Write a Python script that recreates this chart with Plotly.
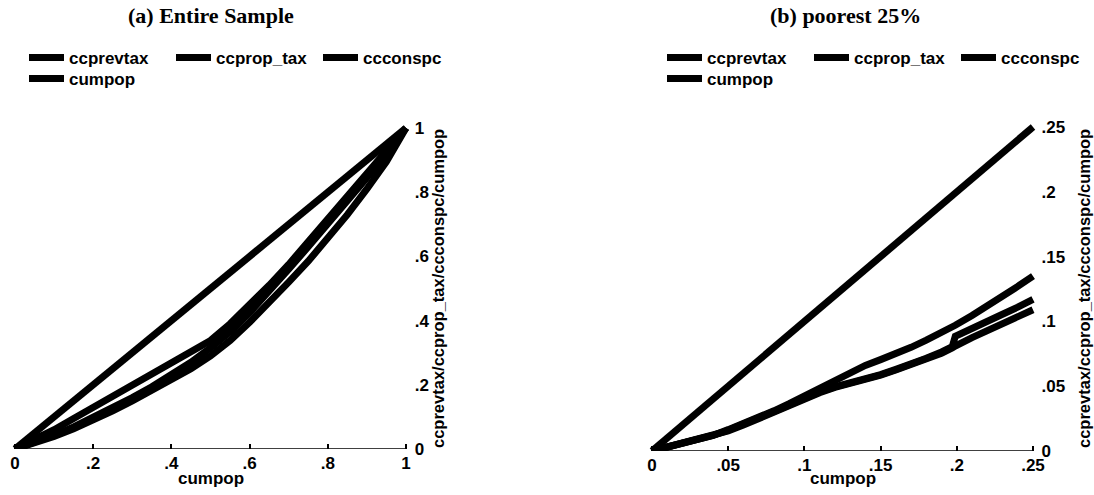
import plotly.graph_objects as go

W, H = 1094, 495

# ---------------- data ----------------
series_names = ["ccprevtax", "ccprop_tax", "ccconspc", "cumpop"]

# panel (a): entire sample
a_cumpop = [0, .05, .1, .15, .2, .25, .3, .35, .4, .45, .5, .55, .6, .65, .7, .75, .8, .85, .9, .95, 1]
a_ccprevtax = [0, .028, .06, .095, .13, .163, .197, .231, .265, .30, .338, .39, .448, .51, .575, .645, .715, .785, .855, .928, 1]
a_ccprop_tax = [0, .020, .043, .069, .098, .128, .160, .194, .23, .27, .315, .365, .425, .49, .56, .63, .70, .77, .845, .92, 1]
a_ccconspc = [0, .018, .039, .063, .09, .119, .15, .183, .215, .25, .29, .338, .395, .455, .52, .585, .655, .73, .81, .895, 1]

# panel (b): poorest 25%
b_cumpop = [0, .01, .02, .03, .04, .05, .06, .07, .08, .09, .10, .11, .12, .13, .14, .15,
            .16, .17, .18, .19, .197, .199, .21, .22, .23, .24, .25]
b_ccprevtax = [0, .003, .0055, .0085, .012, .0165, .021, .026, .031, .0365, .0425, .0485, .055, .0615,
               .066, .0705, .075, .080, .0855, .091, .0955, .097, .1045, .1115, .119, .127, .135]
b_ccprop_tax = [0, .003, .0055, .0085, .012, .016, .0205, .0255, .0305, .0355, .041, .0455, .0495, .0525,
                .0555, .059, .063, .067, .0715, .0765, .0805, .0885, .095, .1005, .1055, .111, .117]
b_ccconspc = [0, .003, .0055, .0085, .0115, .0155, .020, .025, .030, .035, .0405, .045, .049, .052,
              .055, .0585, .0625, .0665, .071, .0755, .0795, .081, .0875, .093, .0985, .1035, .109]

a_ticks = [0, .2, .4, .6, .8, 1]
a_ticktext = ["0", ".2", ".4", ".6", ".8", "1"]
b_ticks = [0, .05, .1, .15, .2, .25]
b_ticktext = ["0", ".05", ".1", ".15", ".2", ".25"]

titles = ["(a) Entire Sample", "(b) poorest 25%"]
x_title = "cumpop"
y_title = "ccprevtax/ccprop_tax/ccconspc/cumpop"

# ---------------- layout helpers ----------------
def xdom(p0, p1, v0, v1, r0, r1):
    s = (p1 - p0) / (v1 - v0)
    return [(p0 + (r0 - v0) * s) / W, (p0 + (r1 - v0) * s) / W]

def ydom(p0, p1, v0, v1, r0, r1):
    s = (p0 - p1) / (v1 - v0)
    bot = p0 + (v0 - r0) * s
    top = p0 - (r1 - v0) * s
    return [1 - bot / H, 1 - top / H]

FONT = "Liberation Sans"
ink = "black"
LW = 7

ax_r = [-0.012, 1.012]
ay_r = [0, 1.014]
bx_r = [-0.003, 0.253]
by_r = [0, 0.2535]

fig = go.Figure()

a_series = [a_ccprevtax, a_ccprop_tax, a_ccconspc, a_cumpop]
b_series = [b_ccprevtax, b_ccprop_tax, b_ccconspc, b_cumpop]
for i, (name, ys) in enumerate(zip(series_names, a_series)):
    fig.add_trace(go.Scatter(x=a_cumpop, y=ys, mode="lines", name=name,
                             line=dict(color=ink, width=LW),
                             xaxis="x", yaxis="y",
                             legend="legend" if i < 3 else "legend2"))
for i, (name, ys) in enumerate(zip(series_names, b_series)):
    fig.add_trace(go.Scatter(x=b_cumpop, y=ys, mode="lines", name=name,
                             line=dict(color=ink, width=LW),
                             xaxis="x2", yaxis="y2",
                             legend="legend3" if i < 3 else "legend4"))

tickfont = dict(family=FONT, size=17, color=ink, weight="bold")

xcommon = dict(showgrid=False, zeroline=False, showline=False, ticks="inside",
               ticklen=5, tickwidth=1.5, tickcolor=ink, tickfont=tickfont,
               automargin=False, ticklabelstandoff=2)
ycommon = dict(showgrid=False, zeroline=False, showline=False, ticks="",
               side="right", tickfont=tickfont, automargin=False, ticklabelstandoff=3)

fig.update_layout(
    width=W, height=H, autosize=False,
    margin=dict(l=0, r=0, t=0, b=0, autoexpand=False),
    paper_bgcolor="white", plot_bgcolor="white",
    showlegend=True,
    xaxis=dict(domain=xdom(15, 406, 0, 1, *ax_r), range=ax_r, anchor="y",
               tickvals=a_ticks, ticktext=a_ticktext, **xcommon),
    yaxis=dict(domain=ydom(449, 128, 0, 1, *ay_r), range=ay_r, anchor="x",
               tickvals=a_ticks, ticktext=a_ticktext, **ycommon),
    xaxis2=dict(domain=xdom(652, 1033, 0, .25, *bx_r), range=bx_r, anchor="y2",
                tickvals=b_ticks, ticktext=b_ticktext, **xcommon),
    yaxis2=dict(domain=ydom(451, 127, 0, .25, *by_r), range=by_r, anchor="x2",
                tickvals=b_ticks, ticktext=b_ticktext, **ycommon),
)

legfont = dict(family=FONT, size=17, color=ink, weight="bold")
def leg(px, py):
    return dict(orientation="h", x=px / W, y=1 - py / H, xanchor="left", yanchor="middle",
                bgcolor="rgba(0,0,0,0)", borderwidth=0, font=legfont,
                itemwidth=35, entrywidthmode="pixels", entrywidth=97,
                tracegroupgap=0, itemclick=False)

fig.update_layout(legend=leg(24, 58), legend2=leg(24, 79),
                  legend3=leg(662, 58), legend4=leg(662, 79))

for xr, yr, xs in (("x", "y", a_cumpop), ("x2", "y2", b_cumpop)):
    fig.add_shape(type="line", xref=xr, yref=yr, x0=xs[0], x1=xs[-1], y0=0, y1=0,
                  line=dict(color=ink, width=1.5))

anns = []
for t, cx in zip(titles, (211, 845)):
    anns.append(dict(text=t, x=cx / W, y=1 - 16 / H, xref="paper", yref="paper",
                     showarrow=False, xanchor="center", yanchor="middle",
                     font=dict(family="Liberation Serif", size=22, color=ink, weight="bold")))
for cx in (211, 843):
    anns.append(dict(text=x_title, x=cx / W, y=1 - 478 / H, xref="paper", yref="paper",
                     showarrow=False, xanchor="center", yanchor="middle",
                     font=dict(family=FONT, size=17, color=ink, weight="bold")))
for cx in (438, 1084):
    anns.append(dict(text=y_title, x=cx / W, y=1 - 289 / H, xref="paper", yref="paper",
                     showarrow=False, xanchor="center", yanchor="middle", textangle=-90,
                     font=dict(family=FONT, size=16.5, color=ink, weight="bold")))
fig.update_layout(annotations=anns)

fig.write_html("out.html", config={"displayModeBar": False},
               post_script="document.body.style.margin='0';document.body.style.overflow='hidden';")
